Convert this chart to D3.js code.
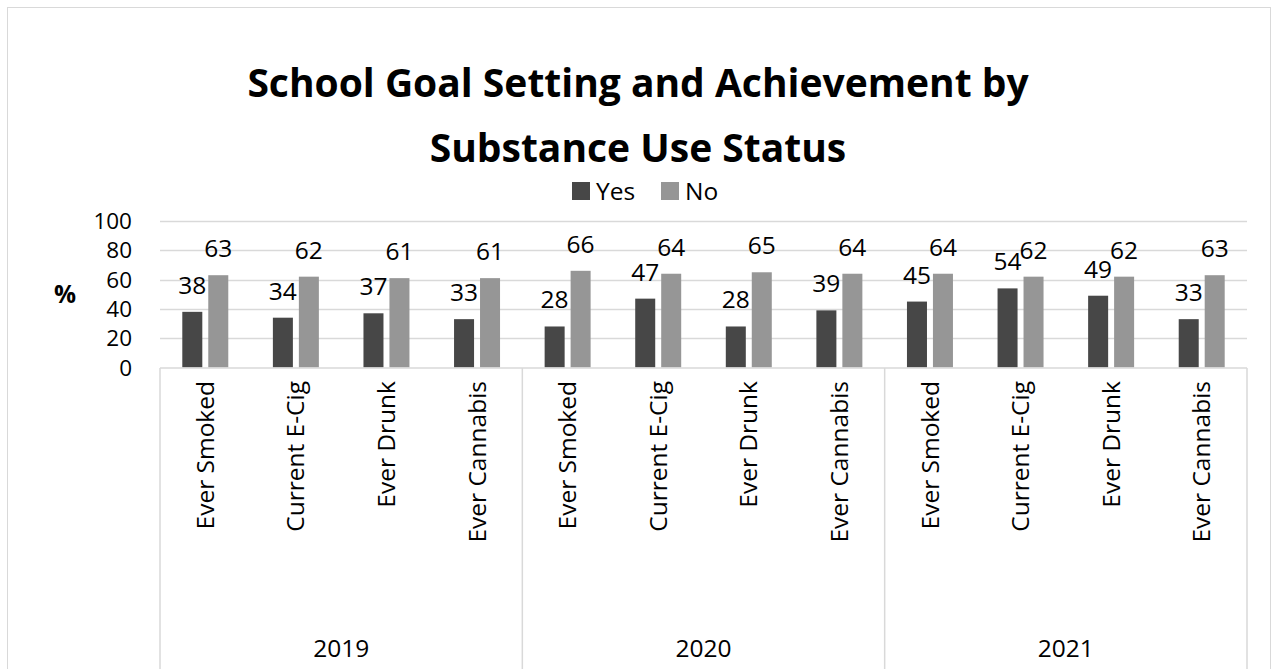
<!DOCTYPE html>
<html>
<head>
<meta charset="utf-8">
<script src="https://cdn.jsdelivr.net/npm/d3@7"></script>
<style>
  body { margin: 0; background: #fff; }
  svg { display: block; font-family: "Open Sans", sans-serif; }
</style>
</head>
<body>
<svg id="chart" width="1274" height="669"></svg>
<script>
// data
const years = ["2019", "2020", "2021"];
const measures = ["Ever Smoked", "Current E-Cig", "Ever Drunk", "Ever Cannabis"];
const seriesNames = ["Yes", "No"];
const yesValues = [38, 34, 37, 33, 28, 47, 28, 39, 45, 54, 49, 33];
const noValues  = [63, 62, 61, 61, 66, 64, 65, 64, 64, 62, 62, 63];
const yTicks = [0, 20, 40, 60, 80, 100];
const colors = { Yes: "#474747", No: "#969696" };

const svg = d3.select("#chart");
const W = 1274, H = 669;
const plot = { left: 160, right: 1247, top: 221, bottom: 367.5 };
const fs = 24.5;

// rows: one per category
const rows = [];
years.forEach((yr, yi) => measures.forEach((m, mi) => {
    const i = yi * measures.length + mi;
    rows.push({ key: yr + "|" + m, year: yr, measure: m, Yes: yesValues[i], No: noValues[i] });
}));

// outer border
svg.append("rect")
    .attr("x", 7.5).attr("y", 7.5).attr("width", 1263).attr("height", H)
    .attr("fill", "none").attr("stroke", "#d9d9d9");

// title
svg.append("text")
    .attr("x", 638).attr("y", 97)
    .attr("text-anchor", "middle").attr("font-size", 39).attr("font-weight", "bold")
    .text("School Goal Setting and Achievement by");
svg.append("text")
    .attr("x", 638).attr("y", 162)
    .attr("text-anchor", "middle").attr("font-size", 39).attr("font-weight", "bold")
    .text("Substance Use Status");

// legend
const legend = svg.append("g").attr("class", "legend");
const legendX = { Yes: 572, No: 661 };
seriesNames.forEach(s => {
    const g = legend.append("g").attr("transform", `translate(${legendX[s]},182)`);
    g.append("rect").attr("width", 18).attr("height", 18).attr("fill", colors[s]);
    g.append("text").attr("x", 24).attr("y", 18).attr("font-size", fs).text(s);
});

const x0 = d3.scaleBand().domain(rows.map(d => d.key)).range([plot.left, plot.right]).padding(0);
const x1 = d3.scaleBand().domain(seriesNames).range([22.3, x0.bandwidth() - 22.3]).paddingInner(0.23);
const y = d3.scaleLinear().domain([0, 100]).range([plot.bottom, plot.top]);

// grid
svg.append("g").attr("class", "grid")
    .selectAll("line").data(yTicks.filter(t => t > 0)).join("line")
    .attr("x1", plot.left).attr("x2", plot.right)
    .attr("y1", d => Math.round(y(d)) + 0.5).attr("y2", d => Math.round(y(d)) + 0.5)
    .attr("stroke", "#d9d9d9").attr("stroke-width", 1.5);

// y tick labels (slightly smaller so the tight rows don't collide)
svg.append("g").attr("class", "yaxis")
    .selectAll("text").data(yTicks).join("text")
    .attr("x", 132).attr("y", d => y(d)).attr("dy", "0.36em")
    .attr("text-anchor", "end").attr("font-size", 22.5)
    .text(d => d);

svg.append("text")
    .attr("x", 65).attr("y", 294).attr("dy", "0.35em")
    .attr("text-anchor", "middle").attr("font-size", fs).attr("font-weight", "bold")
    .text("%");

// bars
const groups = svg.append("g").attr("class", "bars")
    .selectAll("g").data(rows).join("g")
    .attr("transform", d => `translate(${x0(d.key)},0)`);

groups.selectAll("rect").data(d => seriesNames.map(s => ({ s, v: d[s] }))).join("rect")
    .attr("x", d => x1(d.s)).attr("width", x1.bandwidth())
    .attr("y", d => y(d.v)).attr("height", d => y(0) - y(d.v))
    .attr("fill", d => colors[d.s]);

groups.selectAll("text.lbl").data(d => seriesNames.map(s => ({ s, v: d[s] }))).join("text")
    .attr("class", "lbl")
    .attr("x", d => x1(d.s) + x1.bandwidth() / 2)
    .attr("y", d => y(d.v) - 18)
    .attr("text-anchor", "middle").attr("font-size", fs)
    .text(d => d.v);

// category axis (multi-level)
const axisG = svg.append("g").attr("class", "xaxis");
axisG.append("line")
    .attr("x1", plot.left).attr("x2", plot.right)
    .attr("y1", 368).attr("y2", 368)
    .attr("stroke", "#d9d9d9").attr("stroke-width", 1.5);

const yearEdges = years.map((yr, i) => x0(rows[i * measures.length].key)).concat([plot.right]);
axisG.selectAll("line.sep").data(yearEdges).join("line")
    .attr("class", "sep")
    .attr("x1", d => d).attr("x2", d => d)
    .attr("y1", 368).attr("y2", H)
    .attr("stroke", "#d9d9d9").attr("stroke-width", 1.5);

axisG.selectAll("text.cat").data(rows).join("text")
    .attr("class", "cat")
    .attr("transform", d => `translate(${x0(d.key) + x0.bandwidth() / 2},381) rotate(-90)`)
    .attr("dy", "0.35em")
    .attr("text-anchor", "end").attr("font-size", fs)
    .text(d => d.measure);

axisG.selectAll("text.yr").data(years).join("text")
    .attr("class", "yr")
    .attr("x", (d, i) => (yearEdges[i] + yearEdges[i + 1]) / 2)
    .attr("y", 657)
    .attr("text-anchor", "middle").attr("font-size", fs)
    .text(d => d);
</script>
</body>
</html>
